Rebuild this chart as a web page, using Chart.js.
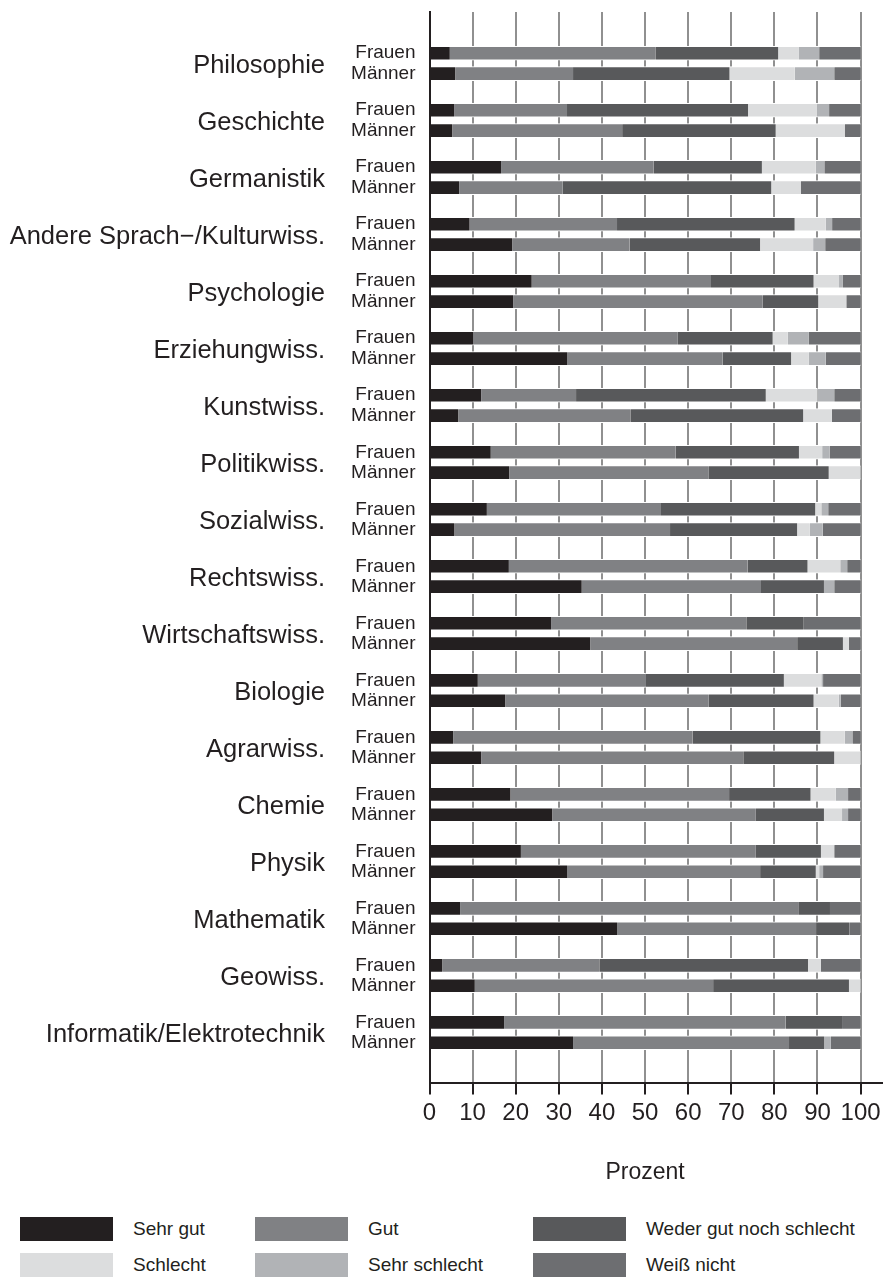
<!DOCTYPE html>
<html>
<head>
<meta charset="utf-8">
<script src="https://cdn.jsdelivr.net/npm/chart.js@4.4.1/dist/chart.umd.min.js"></script>
<style>
  html, body { margin: 0; padding: 0; background: #ffffff; }
  #wrap { position: relative; width: 883px; height: 1280px; overflow: hidden; font-family: "Liberation Sans", Arial, sans-serif; }
  #chart { position: absolute; left: 0; top: 0; }
  .lg-swatch { position: absolute; width: 93px; height: 24px; }
  .lg-text { position: absolute; height: 24px; line-height: 24px; font-size: 19px; color: #231f20; white-space: nowrap; }
</style>
</head>
<body>
<div id="wrap">
  <canvas id="chart" width="883" height="1187"></canvas>
  <div id="legend"></div>
</div>
<script>
// ---- data ----
const categories = ["Philosophie", "Geschichte", "Germanistik", "Andere Sprach\u2212/Kulturwiss.", "Psychologie",
  "Erziehungwiss.", "Kunstwiss.", "Politikwiss.", "Sozialwiss.", "Rechtswiss.", "Wirtschaftswiss.",
  "Biologie", "Agrarwiss.", "Chemie", "Physik", "Mathematik", "Geowiss.", "Informatik/Elektrotechnik"];
const genders = ["Frauen", "Männer"];
const seriesNames = ["Sehr gut", "Gut", "Weder gut noch schlecht", "Schlecht", "Sehr schlecht", "Weiß nicht"];
const xTickValues = [0, 10, 20, 30, 40, 50, 60, 70, 80, 90, 100];
const axisTitle = "Prozent";

// order per category: Frauen, Männer
const sehrGut = [4.7, 6.0, 5.7, 5.3, 16.6, 6.9, 9.3, 19.2, 23.7, 19.4, 10.1, 31.9, 12.0, 6.7, 14.2, 18.5, 13.3, 5.8,
  18.4, 35.3, 28.2, 37.3, 11.2, 17.6, 5.5, 12.0, 18.8, 28.5, 21.2, 31.9, 7.1, 43.5, 3.0, 10.5, 17.3, 33.3];
const gut = [47.7, 27.3, 26.2, 39.4, 35.4, 24.0, 34.2, 27.2, 41.6, 57.9, 47.5, 36.1, 22.0, 39.9, 42.9, 46.3, 40.4, 50.0,
  55.4, 41.6, 45.3, 48.0, 39.0, 47.1, 55.5, 60.8, 50.7, 47.2, 54.5, 44.8, 78.6, 46.2, 36.4, 55.3, 65.3, 50.1];
const weder = [28.5, 36.3, 42.0, 35.6, 25.1, 48.4, 41.2, 30.3, 23.8, 12.9, 22.0, 15.9, 44.0, 40.1, 28.6, 27.8, 35.8, 29.5,
  13.9, 14.6, 13.3, 10.6, 32.0, 24.4, 29.7, 21.1, 18.9, 15.8, 15.1, 12.9, 7.2, 7.7, 48.4, 31.5, 13.1, 8.2];
const schlecht = [4.8, 15.1, 16.0, 16.0, 12.5, 6.8, 7.2, 12.3, 5.9, 6.5, 3.5, 4.1, 12.0, 6.6, 5.4, 7.4, 1.4, 2.9,
  7.6, 0, 0, 1.4, 8.7, 5.8, 5.6, 6.1, 5.8, 4.2, 3.1, 0.8, 0, 0, 3.0, 2.7, 0, 0];
const sehrSchlecht = [4.7, 9.2, 2.8, 0, 2.0, 0, 1.5, 2.8, 0.9, 0, 4.9, 3.9, 3.9, 0, 1.7, 0, 1.6, 3.0,
  1.6, 2.4, 0, 0, 0.4, 0.5, 1.8, 0, 2.9, 1.4, 0, 0.9, 0, 0, 0, 0, 0, 1.5];
const weissNicht = [9.6, 6.1, 7.3, 3.7, 8.4, 13.9, 6.6, 8.2, 4.1, 3.3, 12.0, 8.1, 6.1, 6.7, 7.2, 0, 7.5, 8.8,
  3.1, 6.1, 13.2, 2.7, 8.7, 4.6, 1.9, 0, 2.9, 2.9, 6.1, 8.7, 7.1, 2.6, 9.2, 0, 4.3, 6.9];

// ---- styling ----
const seriesColors = ["#231f20", "#808184", "#58595b", "#dcddde", "#b1b3b6", "#6d6e71"];
const FONT = "'Liberation Sans', Arial, sans-serif";
const INK = "#231f20";
const PAIR_OFFSET = 0.179;   // half distance Frauen/Männer bar within a group (in group units)
const CAT_LABEL_SHIFT = 0.05; // category label sits slightly below the group centre
const Y_MIN = -0.902, Y_MAX = 17.878;

const allSeries = [sehrGut, gut, weder, schlecht, sehrSchlecht, weissNicht];
function rowPos(k) { return Math.floor(k / 2) + (k % 2 === 0 ? -PAIR_OFFSET : PAIR_OFFSET); }

const datasets = allSeries.map((vals, s) => ({
  label: seriesNames[s],
  data: vals.map((v, k) => ({ x: v, y: rowPos(k) })),
  backgroundColor: seriesColors[s],
  borderColor: "#ffffff",
  borderWidth: { top: 1, bottom: 1, left: 0, right: 0 },
  borderSkipped: false,
  barThickness: 14,
  yAxisID: "y",
  xAxisID: "x"
}));

const rowTicks = [];
for (let k = 0; k < categories.length * 2; k++) rowTicks.push({ value: rowPos(k) });
const catTicks = categories.map((c, i) => ({ value: i + CAT_LABEL_SHIFT }));

// axis title centred under the 0..100 range
const axisTitlePlugin = {
  id: "axisTitle",
  afterDraw(ch) {
    const xs = ch.scales.x;
    const ctx = ch.ctx;
    ctx.save();
    ctx.font = "23px " + FONT;
    ctx.fillStyle = INK;
    ctx.textAlign = "center";
    ctx.textBaseline = "middle";
    ctx.fillText(axisTitle, xs.getPixelForValue(50), xs.bottom - 14);
    ctx.restore();
  }
};

const chart = new Chart(document.getElementById("chart"), {
  type: "bar",
  data: { datasets },
  plugins: [axisTitlePlugin],
  options: {
    indexAxis: "y",
    responsive: false,
    animation: false,
    layout: { padding: { top: 12, right: 0, bottom: 0, left: 0 } },
    plugins: { legend: { display: false }, tooltip: { enabled: false } },
    scales: {
      x: {
        type: "linear",
        position: "bottom",
        min: 0,
        max: 105.2,
        stacked: true,
        offset: false,
        afterBuildTicks: (sc) => { sc.ticks = xTickValues.map(v => ({ value: v })); },
        afterFit: (sc) => { sc.paddingLeft = 0; sc.paddingRight = 0; },
        grid: { color: "#909090", lineWidth: 2, tickColor: INK, tickLength: 12, tickWidth: 2 },
        border: { color: INK, width: 2 },
        ticks: { font: { family: FONT, size: 24 }, color: INK, padding: 4, autoSkip: false, maxRotation: 0 },
        title: { display: true, text: axisTitle, font: { family: FONT, size: 23 }, color: "rgba(0,0,0,0)", padding: { top: 28, bottom: 0 } }
      },
      y: {
        type: "linear",
        position: "left",
        weight: 0,
        min: Y_MIN,
        max: Y_MAX,
        reverse: true,
        stacked: true,
        offset: false,
        bounds: "data",
        afterBuildTicks: (sc) => { sc.ticks = rowTicks.map(t => ({ value: t.value })); },
        afterFit: (sc) => { sc.width = 85; sc.paddingTop = 0; sc.paddingBottom = 0; },
        grid: { display: false, drawTicks: false, offset: false },
        border: { display: true, color: INK, width: 2, z: 1 },
        ticks: {
          autoSkip: false,
          padding: 14,
          font: { family: FONT, size: 19 },
          color: INK,
          callback: (v, i) => genders[i % 2]
        }
      },
      yCat: {
        type: "linear",
        position: "left",
        weight: 1,
        min: Y_MIN,
        max: Y_MAX,
        reverse: true,
        offset: false,
        bounds: "data",
        afterBuildTicks: (sc) => { sc.ticks = catTicks.map(t => ({ value: t.value })); },
        afterFit: (sc) => { sc.width = 344.5; sc.paddingTop = 0; sc.paddingBottom = 0; },
        grid: { display: false, drawTicks: false, offset: false },
        border: { display: false },
        ticks: {
          autoSkip: false,
          padding: 19.5,
          font: { family: FONT, size: 25.5 },
          color: INK,
          callback: (v, i) => categories[i]
        }
      }
    }
  }
});

// ---- HTML legend generated from the chart's datasets ----
const legendCols = [20, 255, 533];
const legendRows = [1217, 1253];
const legendEl = document.getElementById("legend");
chart.data.datasets.forEach((ds, i) => {
  const col = i % 3, row = Math.floor(i / 3);
  const sw = document.createElement("div");
  sw.className = "lg-swatch";
  sw.style.left = legendCols[col] + "px";
  sw.style.top = legendRows[row] + "px";
  sw.style.background = ds.backgroundColor;
  legendEl.appendChild(sw);
  const tx = document.createElement("div");
  tx.className = "lg-text";
  tx.style.left = (legendCols[col] + 113) + "px";
  tx.style.top = legendRows[row] + "px";
  tx.textContent = ds.label;
  legendEl.appendChild(tx);
});
</script>
</body>
</html>
